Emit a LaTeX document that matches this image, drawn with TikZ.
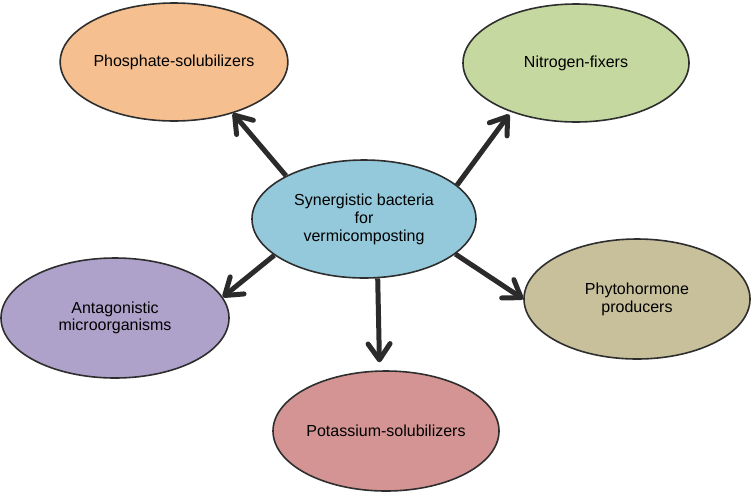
\documentclass[tikz,border=0pt]{standalone}
\usepackage{fontspec}
\setmainfont{Liberation Sans}
\usetikzlibrary{arrows.meta,shapes.geometric}
\definecolor{lineC}{HTML}{2E2E2E}
\definecolor{arrC}{HTML}{2B2B2B}
\definecolor{centC}{HTML}{93C9DB}
\definecolor{phosC}{HTML}{F5BF90}
\definecolor{nitC}{HTML}{C4D8A0}
\definecolor{antC}{HTML}{AFA2CA}
\definecolor{phyC}{HTML}{C7C09B}
\definecolor{potC}{HTML}{D49494}
\begin{document}
\begin{tikzpicture}[x=1pt,y=-1pt,
  bub/.style={ellipse,draw=lineC,line width=1.6pt,inner sep=0pt,
    minimum width=226pt,minimum height=118pt,align=center,
    font=\fontsize{16}{18}\selectfont},
  arr/.style={draw=arrC,line width=5pt,
    -{Straight Barb[length=16pt,width=22pt,round]}}]
\useasboundingbox (0,0) rectangle (751,493);
\node[bub,fill=centC,minimum width=224pt] (c) at (364,219) {Synergistic bacteria\\for\\vermicomposting};
\node[bub,fill=phosC] (p) at (174,62) {Phosphate-solubilizers};
\node[bub,fill=nitC] (n) at (576,63) {Nitrogen-fixers};
\node[bub,fill=antC,minimum width=228pt,minimum height=120pt,align=none] (a) at (115,318) {\begin{tabular}{@{}c@{}}Antagonistic\\[-1pt]microorganisms\end{tabular}\hspace{16pt}};
\node[bub,fill=phyC,minimum height=120pt] (h) at (637,299) {Phytohormone\\producers};
\node[bub,fill=potC,minimum height=120pt] (k) at (386,431) {Potassium-solubilizers};
\draw[arr] (c.151.7) -- (p.319);
\draw[arr,shorten >=3pt] (c.20.6) -- (n.217.9);
\draw[arr] (c.202.2) -- (a.11.5);
\draw[arr] (c.339) -- (h.180);
\draw[arr,shorten >=8pt] (c.283.6) -- (k.96.7);
\end{tikzpicture}
\end{document}
